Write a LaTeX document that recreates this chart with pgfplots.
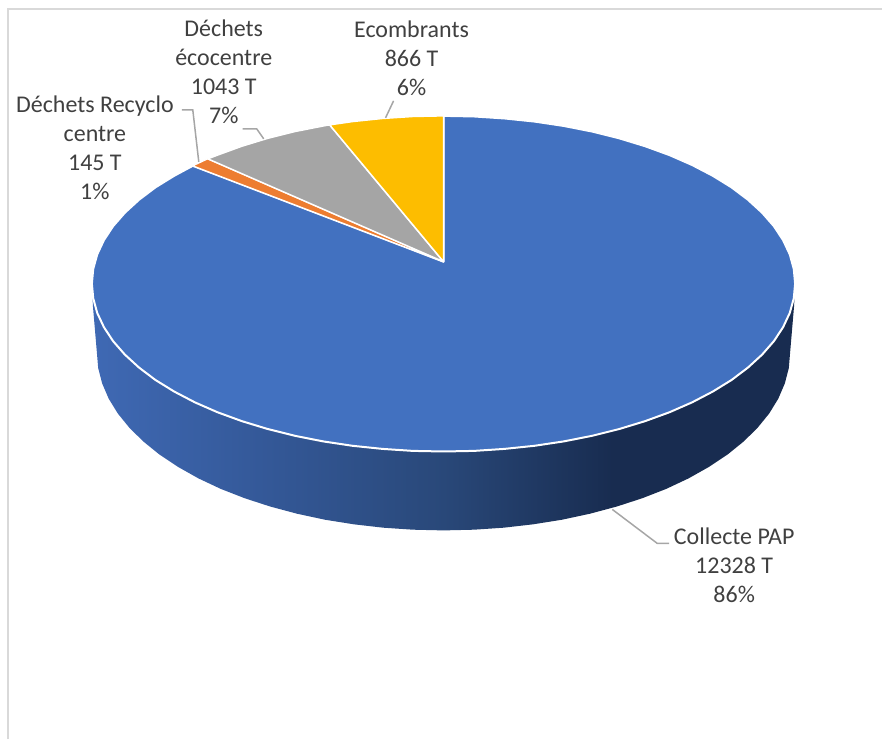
\documentclass[border=0pt]{standalone}
\usepackage{fontspec}
\setmainfont{Carlito}
\usepackage{pgfplots}
\pgfplotsset{compat=1.18}

\definecolor{pieblue}{HTML}{4271C0}
\definecolor{pieorange}{HTML}{ED7D31}
\definecolor{piegrey}{HTML}{A5A5A5}
\definecolor{pieyellow}{HTML}{FDBD00}
\definecolor{labeltext}{HTML}{404040}
\definecolor{leader}{HTML}{A6A6A6}
\definecolor{frameline}{HTML}{D9D9D9}
\definecolor{sideA}{HTML}{3F69B4}
\definecolor{sideB}{HTML}{355A9B}
\definecolor{sideC}{HTML}{294879}
\definecolor{sideD}{HTML}{182C50}

% rim of the pie, lit from the left
\pgfdeclarehorizontalshading{pieside}{100bp}{
  color(0bp)=(sideA); color(25bp)=(sideA); color(36bp)=(sideB);
  color(50bp)=(sideC); color(62bp)=(sideD); color(100bp)=(sideD)}

\begin{document}
\begin{tikzpicture}
\begin{axis}[
    width=883pt, height=740pt,
    scale only axis,
    xmin=0, xmax=883, ymin=0, ymax=740,
    y dir=reverse,
    hide axis,
    clip=false,
]
% keeps the page as large as the reference
\addplot[draw=none] coordinates {(0,0) (883,0) (883,740) (0,740)} -- cycle;

% frame
\addplot[frameline, line width=2pt] coordinates {(8,740) (8,9.5) (883,9.5)};

% rim
\addplot[draw=none, shade, shading=pieside] coordinates {
  (92,284) (93,306) (97,353) (98.3,368.5) (102.3,383.9) (108.8,399.1) (117.9,413.9)
  (129.5,428.2) (143.5,442) (159.7,455.1) (178.2,467.4) (198.6,478.9) (220.9,489.4)
  (245,498.8) (270.5,507.1) (297.4,514.3) (325.3,520.3) (354.2,524.9) (383.8,528.3)
  (413.7,530.3) (444,531) (474.3,530.3) (504.2,528.3) (533.8,524.9) (562.7,520.3)
  (590.6,514.3) (617.5,507.1) (643,498.8) (667.1,489.4) (689.4,478.9) (709.8,467.4)
  (728.3,455.1) (744.5,442) (758.5,428.2) (770.1,413.9) (779.2,399.1) (785.7,383.9)
  (789.7,368.5) (791,353) (795,306) (796,284)
} -- cycle;

% Collecte PAP, 12328 T
\addplot[fill=pieblue, draw=white, line width=2pt, line join=round] coordinates {
  (444,262) (444,116) (474.7,116.6) (505.1,118.6) (535.1,121.7) (564.4,126.1)
  (592.8,131.7) (620,138.5) (645.9,146.4) (670.3,155.3) (692.9,165.2) (713.6,176)
  (732.4,187.6) (748.8,200) (763,213) (774.8,226.5) (784,240.5) (790.7,254.8)
  (794.7,269.4) (796,284) (794.7,298.6) (790.7,313.2) (784,327.5) (774.8,341.5)
  (763,355) (748.8,368) (732.4,380.4) (713.6,392) (692.9,402.8) (670.3,412.7)
  (645.9,421.6) (620,429.5) (592.8,436.3) (564.4,441.9) (535.1,446.3) (505.1,449.4)
  (474.7,451.4) (444,452) (413.3,451.4) (382.9,449.4) (352.9,446.3) (323.6,441.9)
  (295.2,436.3) (268,429.5) (242.1,421.6) (217.7,412.7) (195.1,402.8) (174.4,392)
  (155.6,380.4) (139.2,368) (125,355) (113.2,341.5) (104,327.5) (97.3,313.2)
  (93.3,298.6) (92,284) (93.3,269.4) (97.3,254.8) (104,240.5) (113.2,226.5)
  (125,213) (139.2,200) (155.6,187.6) (174.4,176) (193,166)
} -- cycle;
% Dechets Recyclo centre, 145 T
\addplot[fill=pieorange, draw=white, line width=1.2pt, line join=round] coordinates {
  (444,262) (193,166) (208,159)
} -- cycle;
% Dechets ecocentre, 1043 T
\addplot[fill=piegrey, draw=white, line width=1.5pt, line join=round] coordinates {
  (444,262) (208,159) (217.7,155.3) (242.1,146.4) (268,138.5) (295.2,131.7)
  (323.6,126.1) (330,125)
} -- cycle;
% Ecombrants, 866 T
\addplot[fill=pieyellow, draw=white, line width=1.5pt, line join=round] coordinates {
  (444,262) (330,125) (352.9,121.7) (382.9,118.6) (413.3,116.6) (444,116)
} -- cycle;

% leader lines
\addplot[leader, line width=1.5pt] coordinates {(182,110) (193,110) (199,162)};
\addplot[leader, line width=1.5pt] coordinates {(243,129) (257,129) (264,139)};
\addplot[leader, line width=1.5pt] coordinates {(394,101) (386,118)};
\addplot[leader, line width=1.5pt] coordinates {(613,510) (658,544) (670,544)};

\begin{scope}[every node/.style={align=center, text=labeltext,
    font=\fontsize{24}{29}\selectfont, inner sep=0pt}]
\node at (axis cs:224,72) {Déchets\\écocentre\\1043 T\\7\%};
\node at (axis cs:412,58) {Ecombrants\\866 T\\6\%};
\node at (axis cs:95,148) {Déchets Recyclo\\centre\\145 T\\1\%};
\node at (axis cs:735,566) {Collecte PAP\\12328 T\\86\%};
\end{scope}
\end{axis}
\end{tikzpicture}
\end{document}
